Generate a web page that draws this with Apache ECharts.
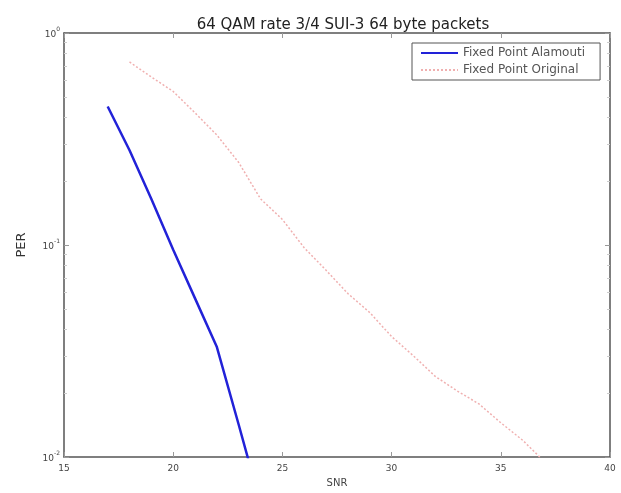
<!DOCTYPE html>
<html>
<head>
<meta charset="utf-8">
<script src="https://cdn.jsdelivr.net/npm/echarts@6/dist/echarts.min.js"></script>
<style>
html,body{margin:0;padding:0;background:#fff;}
#c{width:621px;height:493px;}
</style>
</head>
<body>
<div id="c"></div>
<script>
const titleText = '64 QAM rate 3/4 SUI-3 64 byte packets';
const seriesNames = ['Fixed Point Alamouti', 'Fixed Point Original'];
const snrAlamouti = [17, 18, 19, 20, 21, 22, 23, 24];
const perAlamouti = [0.45, 0.28, 0.165, 0.095, 0.056, 0.033, 0.0142, 0.006];
const snrOriginal = [18, 19, 20, 21, 22, 23, 24, 25, 26, 27, 28, 29, 30, 31, 32, 33, 34, 35, 36, 37];
const perOriginal = [0.73, 0.62, 0.53, 0.42, 0.33, 0.245, 0.165, 0.132, 0.097, 0.076, 0.059, 0.048, 0.037, 0.030, 0.024, 0.0205, 0.0178, 0.0145, 0.012, 0.0095];
const xTicks = [15, 20, 25, 30, 35, 40];
const yMinorTicks = [0.02,0.03,0.04,0.05,0.06,0.07,0.08,0.09,0.2,0.3,0.4,0.5,0.6,0.7,0.8,0.9];

const FONT = 'DejaVu Sans';
const axisColor = '#555';

function pairs(xs, ys){ return xs.map((x,i)=>[x, ys[i]]); }
function supLabel(v){
  const e = Math.round(Math.log10(v));
  return '{b|10}{s|' + e + '}';
}
const labelRich = {
  b:{fontFamily:FONT,fontSize:9,color:'#444',verticalAlign:'bottom',padding:[4,0,0,0]},
  s:{fontFamily:FONT,fontSize:6,color:'#444',verticalAlign:'top',padding:[0,0,6,0]}
};

const chart = echarts.init(document.getElementById('c'), null, {renderer:'canvas'});
chart.setOption({
  animation:false,
  backgroundColor:'#fff',
  title:{
    text:titleText,
    left:338, top:13,
    textAlign:'center',
    textStyle:{fontFamily:FONT,fontSize:15,fontWeight:'normal',color:'#222'}
  },
  legend:{
    orient:'vertical',
    left:412, top:43,
    padding:[4,15,4,8],
    itemGap:5,
    itemWidth:37, itemHeight:14,
    borderColor:'#555', borderWidth:1,
    backgroundColor:'#fff',
    itemStyle:{opacity:0,borderWidth:0},
    textStyle:{fontFamily:FONT,fontSize:12,color:'#555'},
    data:[seriesNames[0], seriesNames[1]]
  },
  grid:{left:64,right:11,top:33,bottom:32,containLabel:false},
  xAxis:[{
    type:'value', min:15, max:40, interval:5,
    name:'SNR', nameLocation:'middle', nameGap:21,
    nameTextStyle:{fontFamily:FONT,fontSize:10,color:'#444'},
    axisLine:{show:true,lineStyle:{color:axisColor,width:1.5}},
    axisTick:{show:true,inside:true,length:5,lineStyle:{color:'#999'}},
    axisLabel:{fontFamily:FONT,fontSize:9,color:'#444',margin:7,
      customValues:xTicks},
    splitLine:{show:false}
  },{
    type:'value', min:15, max:40, interval:5, position:'top',
    axisLine:{show:true,onZero:false,lineStyle:{color:axisColor,width:1.5}},
    axisTick:{show:true,inside:true,length:5,lineStyle:{color:'#999'}},
    axisLabel:{show:false}, splitLine:{show:false}
  }],
  yAxis:[{
    type:'log', logBase:10, min:0.01, max:1, interval:1,
    name:'PER', nameLocation:'middle', nameGap:36, nameRotate:90,
    nameTextStyle:{fontFamily:FONT,fontSize:13,color:'#333'},
    axisLine:{show:true,onZero:false,lineStyle:{color:axisColor,width:1.5}},
    axisTick:{show:true,inside:true,length:5,lineStyle:{color:'#999'}},
    axisLabel:{margin:4,formatter:supLabel,rich:labelRich},
    splitLine:{show:false}, minorTick:{show:false}
  },{
    type:'log', logBase:10, min:0.01, max:1, interval:1, position:'right',
    axisLine:{show:true,onZero:false,lineStyle:{color:axisColor,width:1.5}},
    axisTick:{show:true,inside:true,length:5,lineStyle:{color:'#999'}},
    axisLabel:{show:false}, splitLine:{show:false}
  },{
    type:'log', logBase:10, min:0.01, max:1, position:'left',
    axisLine:{show:false},
    axisTick:{show:true,inside:true,length:3,lineStyle:{color:'#ccc'},customValues:yMinorTicks},
    axisLabel:{show:false}, splitLine:{show:false}
  },{
    type:'log', logBase:10, min:0.01, max:1, position:'right',
    axisLine:{show:false},
    axisTick:{show:true,inside:true,length:3,lineStyle:{color:'#ccc'},customValues:yMinorTicks},
    axisLabel:{show:false}, splitLine:{show:false}
  }],
  series:[{
    name:seriesNames[0], type:'line', xAxisIndex:0, yAxisIndex:0,
    data:pairs(snrAlamouti, perAlamouti),
    showSymbol:false, symbol:'none', smooth:false, clip:true,
    lineStyle:{color:'#2222d8',width:2.5},
    itemStyle:{color:'#2222d8'}
  },{
    name:seriesNames[1], type:'line', xAxisIndex:0, yAxisIndex:0,
    data:pairs(snrOriginal, perOriginal),
    showSymbol:false, symbol:'none', smooth:false, clip:true,
    lineStyle:{color:'#f0b0b0',width:1.5,type:[2,2]},
    itemStyle:{color:'#f0b0b0'}
  }]
});
</script>
</body>
</html>
